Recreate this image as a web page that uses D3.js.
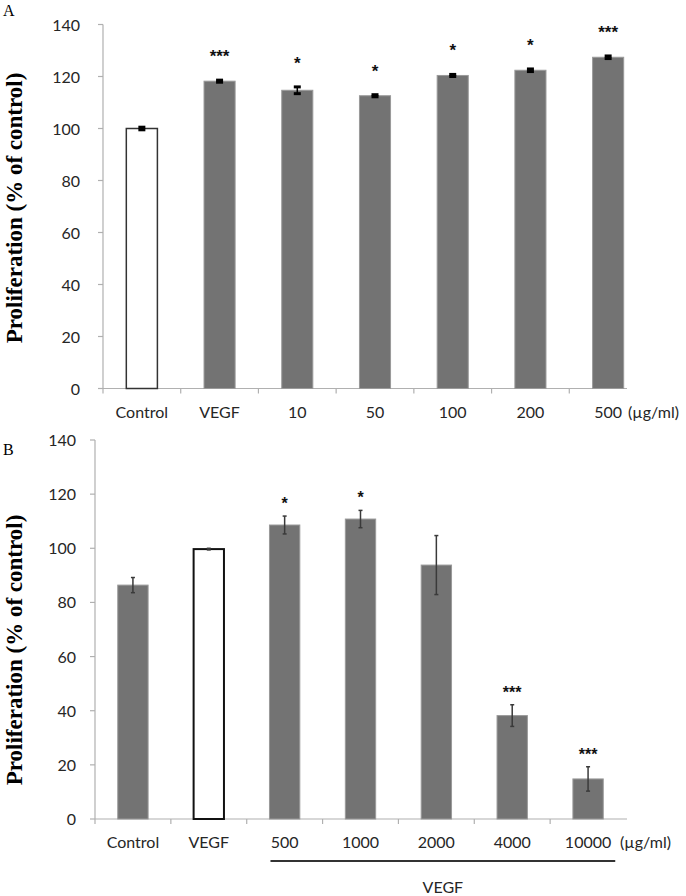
<!DOCTYPE html>
<html><head><meta charset="utf-8">
<script src="https://cdn.jsdelivr.net/npm/d3@7/dist/d3.min.js"></script>
<style>
body{margin:0;background:#fff;}
svg{display:block;}
</style></head>
<body>
<svg id="c" width="686" height="896"></svg>
<script>
// ---- Panel A data ----
const catsA = ["Control","VEGF","10","50","100","200","500"];
const valsA = [100, 118.2, 114.7, 112.6, 120.4, 122.4, 127.4];
const errsA = [0.5, 0.4, 1.3, 0.4, 0.4, 0.5, 0.5];
const starsA = ["", "***", "*", "*", "*", "*", "***"];
const whiteA = [true, false, false, false, false, false, false];

// ---- Panel B data ----
const catsB = ["Control","VEGF","500","1000","2000","4000","10000"];
const valsB = [86.4, 99.7, 108.6, 110.8, 93.8, 38.2, 14.8];
const errsB = [2.8, 0.3, 3.3, 3.2, 10.9, 4.0, 4.5];
const starsB = ["", "", "*", "*", "", "***", "***"];
const whiteB = [false, true, false, false, false, false, false];

const yTicks = [0,20,40,60,80,100,120,140];
const unitLabel = "(µg/ml)";
const yTitle = "Proliferation (% of control)";

const svg = d3.select("#c");
const GRAY = "#737373";
const AXIS = "#b0b0b0";

function panel(o){
  const x = d3.scaleBand().domain(o.cats).range([o.x0, o.x1]).paddingInner(0.6).paddingOuter(0.3);
  const y = d3.scaleLinear().domain([0,140]).range([o.y0, o.y1]);
  const g = svg.append("g");

  g.append("line").attr("x1",o.x0).attr("x2",o.x0).attr("y1",y(140)).attr("y2",y(0))
    .attr("stroke",AXIS).attr("stroke-width",1.2);
  g.selectAll(".yt").data(yTicks).enter().append("line")
    .attr("x1",o.x0-5).attr("x2",o.x0).attr("y1",d=>y(d)).attr("y2",d=>y(d))
    .attr("stroke",AXIS).attr("stroke-width",1.2);
  g.selectAll(".yl").data(yTicks).enter().append("text")
    .attr("x",o.labelRight).attr("y",d=>y(d)+6)
    .attr("text-anchor","end").attr("font-family","Lato, 'Open Sans', sans-serif")
    .attr("font-size",16).attr("fill","#262626").text(d=>d);

  g.append("line").attr("x1",o.x0).attr("x2",o.xAxisEnd).attr("y1",y(0)).attr("y2",y(0))
    .attr("stroke",AXIS).attr("stroke-width",1.2);
  const step = x.step();
  const bounds = d3.range(0, o.cats.length).map(i => o.x0 + i*step);
  g.selectAll(".xt").data(bounds).enter().append("line")
    .attr("x1",d=>d).attr("x2",d=>d).attr("y1",y(0)).attr("y2",y(0)+5)
    .attr("stroke",AXIS).attr("stroke-width",1.2);

  o.cats.forEach((c,i)=>{
    const v = o.vals[i];
    const bx = x(c), bw = x.bandwidth();
    if(o.white[i]){
      g.append("rect").attr("x",bx).attr("y",y(v)).attr("width",bw).attr("height",y(0)-y(v))
        .attr("fill","#fff").attr("stroke",o.whiteStroke).attr("stroke-width",o.whiteSW);
    } else {
      g.append("rect").attr("x",bx).attr("y",y(v)).attr("width",bw).attr("height",y(0)-y(v))
        .attr("fill",GRAY).attr("stroke","#9a9a9a").attr("stroke-width",1);
    }
    const cx = bx + bw/2, e = o.errs[i];
    g.append("line").attr("x1",cx).attr("x2",cx).attr("y1",y(v+e)).attr("y2",y(v-e))
      .attr("stroke",o.errColor).attr("stroke-width",o.errW);
    [v+e, v-e].forEach(t=>{
      g.append("line").attr("x1",cx-o.capW/2).attr("x2",cx+o.capW/2).attr("y1",y(t)).attr("y2",y(t))
        .attr("stroke",o.errColor).attr("stroke-width",o.capSW);
    });
    if(o.stars[i]){
      g.append("text").attr("x",cx).attr("y",y(v+e)-o.starOff+10)
        .attr("text-anchor","middle").attr("font-family","'Liberation Sans', Arial, sans-serif")
        .attr("font-weight","bold").attr("font-size",o.starSize).attr("fill","#111")
        .text(o.stars[i]);
    }
    g.append("text").attr("x",cx).attr("y",o.catY)
      .attr("text-anchor","middle").attr("font-family","Lato, 'Open Sans', sans-serif")
      .attr("font-size",16).attr("fill","#262626").text(c);
  });
  g.append("text").attr("x",o.unitX).attr("y",o.catY)
    .attr("font-family","Lato, 'Open Sans', sans-serif").attr("font-size",16).attr("fill","#262626")
    .text(unitLabel);

  g.append("text").attr("transform",`translate(${o.titleX},${o.titleY}) rotate(-90)`)
    .attr("text-anchor","middle").attr("font-family","'Liberation Serif','Times New Roman',serif")
    .attr("font-weight","bold").attr("font-size",23).attr("fill","#000").text(yTitle);

  g.append("text").attr("x",3).attr("y",o.letterY)
    .attr("font-family","'Liberation Serif','Times New Roman',serif").attr("font-size",16)
    .attr("fill","#000").text(o.letter);
  return {x,y,g};
}

panel({cats:catsA, vals:valsA, errs:errsA, stars:starsA, white:whiteA,
  x0:103, x1:647, xAxisEnd:627, y0:388.5, y1:24.5, labelRight:80, catY:418,
  unitX:628, titleX:22, titleY:208, letter:"A", letterY:16,
  whiteStroke:"#333", whiteSW:1.5, errColor:"#000", errW:1.5, capW:7, capSW:3,
  starOff:28, starSize:17});

const B = panel({cats:catsB, vals:valsB, errs:errsB, stars:starsB, white:whiteB,
  x0:95, x1:626, xAxisEnd:627, y0:819, y1:440, labelRight:76, catY:848,
  unitX:620, titleX:22, titleY:650, letter:"B", letterY:455,
  whiteStroke:"#111", whiteSW:2, errColor:"#3a3a3a", errW:1.5, capW:4, capSW:1.5,
  starOff:17, starSize:16});

// VEGF group underline for treatment doses
const grp = catsB.slice(2);
const gx0 = B.x(grp[0]) + 1, gx1 = B.x(grp[grp.length-1]) + B.x.bandwidth() + 12;
B.g.append("line").attr("x1",gx0).attr("x2",gx1).attr("y1",861).attr("y2",861)
  .attr("stroke","#333").attr("stroke-width",2);
B.g.append("text").attr("x",(gx0+gx1)/2).attr("y",893).attr("text-anchor","middle")
  .attr("font-family","Lato, 'Open Sans', sans-serif").attr("font-size",16).attr("fill","#262626")
  .text("VEGF");
</script>
</body></html>
